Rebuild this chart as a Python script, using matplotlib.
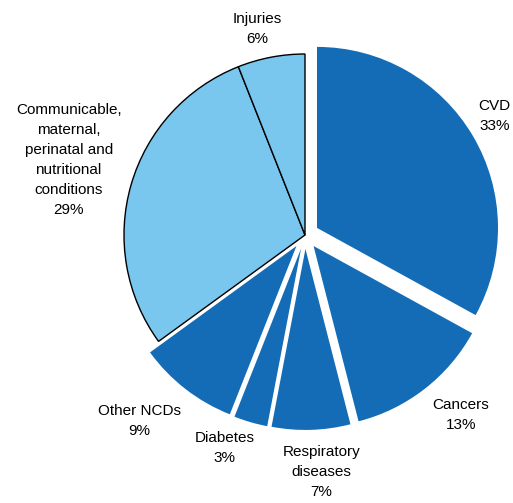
import numpy as np
import matplotlib.pyplot as plt

plt.rcParams['font.family'] = ['Liberation Sans', 'DejaVu Sans']

# share of deaths by cause, clockwise from 12 o'clock
labels = ['CVD', 'Cancers', 'Respiratory\ndiseases', 'Diabetes', 'Other NCDs',
          'Communicable,\nmaternal,\nperinatal and\nnutritional\nconditions', 'Injuries']
values = [33, 13, 7, 3, 9, 29, 6]
is_ncd = [True, True, True, True, True, False, False]

dark = '#136CB5'
light = '#79C6EE'

# label placement: distance (in radii) and small angle tweak (deg)
label_dist = [1.16, 1.24, 1.235, 1.18, 1.30, 1.37, 1.17]
label_dang = [1.6, 3.3, 2.3, -4.8, -4.2, -1.4, 2.2]

fig = plt.figure(figsize=(5.13, 5.03), dpi=100)
ax = fig.add_axes([0, 0, 1, 1])

explode = [0.077 if n else 0 for n in is_ncd]
colors = [dark if n else light for n in is_ncd]

wedges, _ = ax.pie(values, explode=explode, colors=colors, startangle=90,
                   counterclock=False, radius=1.0)
for w, n in zip(wedges, is_ncd):
    if n:
        w.set_edgecolor('none')
    else:
        w.set_edgecolor('black')
        w.set_linewidth(1.0)

for w, lab, v, d, da in zip(wedges, labels, values, label_dist, label_dang):
    ang = np.deg2rad((w.theta1 + w.theta2) / 2 + da)
    cx, cy = w.center
    ax.text(cx + d * np.cos(ang), cy + d * np.sin(ang), f'{lab}\n{v}%',
            ha='center', va='center', fontsize=11, linespacing=1.55)

ax.set_xlim(-305 / 181, (513 - 305) / 181)
ax.set_ylim(-(503 - 235) / 181, 235 / 181)
ax.set_aspect('equal')
ax.axis('off')

fig.savefig('out.png', dpi=100)
